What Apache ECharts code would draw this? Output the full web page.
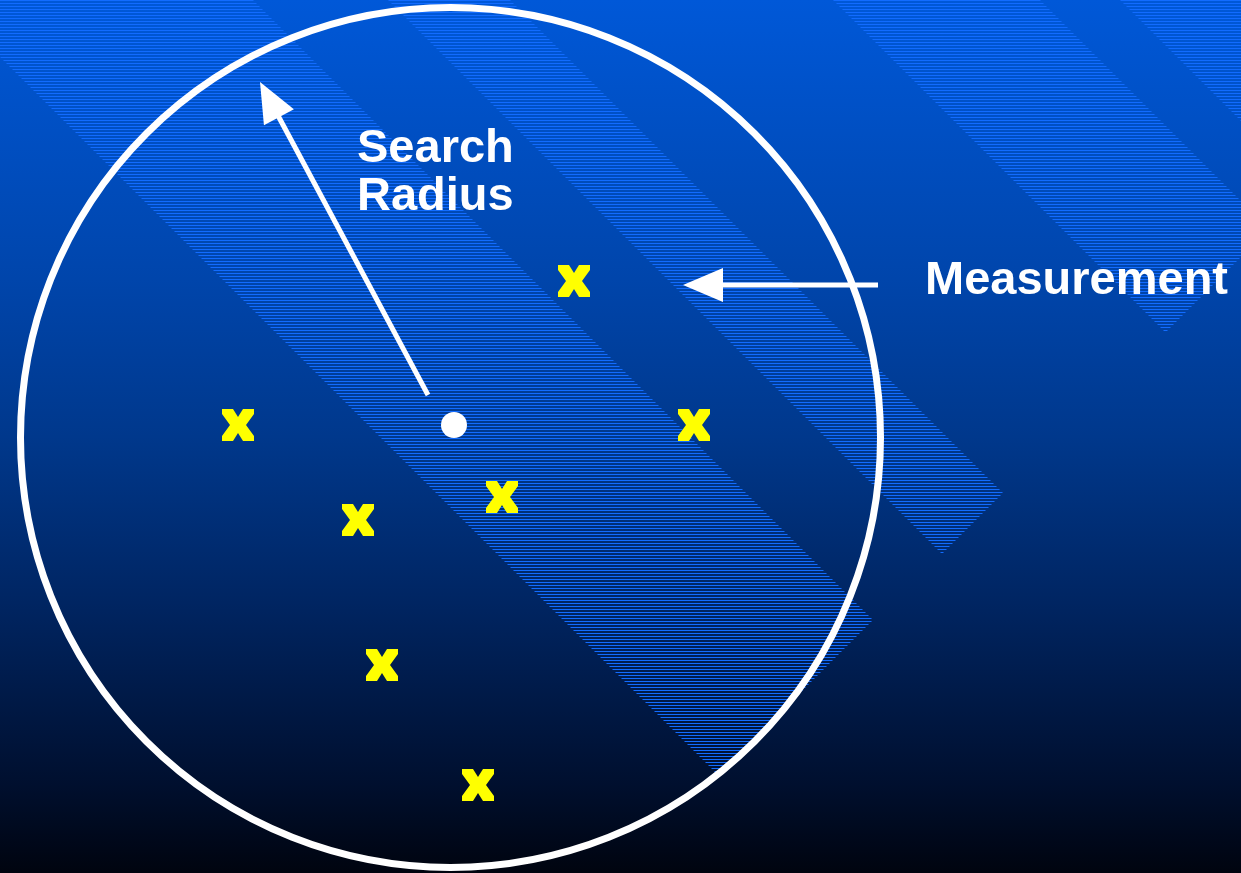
<!DOCTYPE html>
<html><head><meta charset="utf-8">
<script src="https://cdn.jsdelivr.net/npm/echarts@6/dist/echarts.min.js"></script>
<style>html,body{margin:0;padding:0;background:#000;overflow:hidden}#chart{width:1241px;height:873px}</style>
</head><body><div id="chart"></div>
<script>
// Field coordinates (x to the right, y downward)
const fieldWidth = 1241;
const fieldHeight = 873;
const measurementX = [238, 574, 694, 502, 358, 382, 478];
const measurementY = [425, 281, 425, 497, 520, 665, 785];
const searchCenter = [454, 425];
const circleCenter = [450.5, 437.5];
const circleRadius = 430;
const arrowFrom = [[428, 395], [878, 285]];
const arrowTo = [[260, 82], [683, 285]];
// Diagonal striped bands: edges y = x + c, cut off at x + y = end
const bandLowerIntercept = [57, -388, -833, -1120];
const bandUpperIntercept = [-253, -510, -1040, -1600];
const bandEnd = [1493, 1496, 1498, 1498];
const labelText = ['Search\nRadius', 'Measurement'];
const labelX = [357, 925];
const labelY = [173, 281];

const stripe = document.createElement('canvas');
stripe.width = 4; stripe.height = 3;
const sctx = stripe.getContext('2d');
sctx.fillStyle = 'rgb(18,108,255)';
sctx.fillRect(0, 0, 4, 1);
const stripePattern = { image: stripe, repeat: 'repeat' };

const chart = echarts.init(document.getElementById('chart'), null, { renderer: 'canvas' });

const bandData = bandLowerIntercept.map((c, i) => [c, bandUpperIntercept[i], bandEnd[i]]);
const arrowData = arrowFrom.map((p, i) => [p[0], p[1], arrowTo[i][0], arrowTo[i][1]]);
const markerData = measurementX.map((x, i) => [x, measurementY[i]]);
const labelData = labelText.map((t, i) => ({ name: t, value: [labelX[i], labelY[i]] }));

const xPath = 'path://M0,0 L11,0 L16,8 L21,0 L32,0 L32,5 L24,16 L32,27 L32,32 L21,32 L16,24 L11,32 L0,32 L0,27 L8,16 L0,5 Z';

chart.setOption({
  animation: false,
  backgroundColor: {
    type: 'linear', x: 0, y: 0, x2: 0, y2: 1,
    colorStops: [
      { offset: 0, color: '#0058d8' },
      { offset: 0.32, color: '#0045ab' },
      { offset: 0.5, color: '#00388c' },
      { offset: 0.69, color: '#002562' },
      { offset: 0.9, color: '#000f2e' },
      { offset: 1, color: '#00040f' }
    ]
  },
  grid: { left: 0, right: 0, top: 0, bottom: 0 },
  xAxis: { type: 'value', min: 0, max: fieldWidth, show: false },
  yAxis: { type: 'value', min: 0, max: fieldHeight, inverse: true, show: false },
  series: [
    {
      type: 'custom', z: 1, silent: true, clip: true,
      data: bandData,
      renderItem: function (params, api) {
        const c1 = api.value(0), c2 = api.value(1), e = api.value(2);
        const far = -3000;
        const pts = [
          [far - c2, far],
          [(e - c2) / 2, (e + c2) / 2],
          [(e - c1) / 2, (e + c1) / 2],
          [far - c1, far]
        ].map(p => api.coord(p));
        return { type: 'polygon', shape: { points: pts }, style: { fill: stripePattern } };
      }
    },
    {
      type: 'custom', z: 3, silent: true,
      data: [[circleCenter[0], circleCenter[1], circleRadius]],
      renderItem: function (params, api) {
        const c = api.coord([api.value(0), api.value(1)]);
        const r = api.size([api.value(2), 0])[0];
        return { type: 'circle', shape: { cx: c[0], cy: c[1], r: r }, style: { fill: 'none', stroke: '#ffffff', lineWidth: 7 } };
      }
    },
    {
      type: 'custom', z: 4, silent: true,
      data: arrowData,
      renderItem: function (params, api) {
        const p1 = api.coord([api.value(0), api.value(1)]);
        const p2 = api.coord([api.value(2), api.value(3)]);
        const dx = p2[0] - p1[0], dy = p2[1] - p1[1];
        const len = Math.sqrt(dx * dx + dy * dy);
        const ux = dx / len, uy = dy / len;
        const nx = -uy, ny = ux;
        const hl = 40, hw = 17;
        const bx = p2[0] - ux * hl, by = p2[1] - uy * hl;
        return {
          type: 'group',
          children: [
            { type: 'line', shape: { x1: p1[0], y1: p1[1], x2: bx + ux * 2, y2: by + uy * 2 }, style: { stroke: '#ffffff', lineWidth: 5 } },
            { type: 'polygon', shape: { points: [[p2[0], p2[1]], [bx + nx * hw, by + ny * hw], [bx - nx * hw, by - ny * hw]] }, style: { fill: '#ffffff' } }
          ]
        };
      }
    },
    {
      type: 'scatter', z: 5, silent: true,
      symbol: xPath, symbolSize: 32, symbolKeepAspect: true,
      itemStyle: { color: '#ffff00', opacity: 1 },
      data: markerData
    },
    {
      type: 'scatter', z: 5, silent: true,
      symbol: 'circle', symbolSize: 26,
      itemStyle: { color: '#ffffff', opacity: 1 },
      data: [searchCenter]
    },
    {
      type: 'scatter', z: 6, silent: true,
      symbolSize: 0,
      itemStyle: { color: 'transparent', opacity: 1 },
      label: {
        show: true, position: 'inside', align: 'left', verticalAlign: 'middle',
        formatter: '{b}', color: '#ffffff', opacity: 1, fontSize: 47, fontWeight: 'bold',
        textBorderWidth: 0,
        fontFamily: '"Liberation Sans", Arial, Helvetica, sans-serif', lineHeight: 48
      },
      data: labelData
    }
  ]
});
</script>
</body></html>
